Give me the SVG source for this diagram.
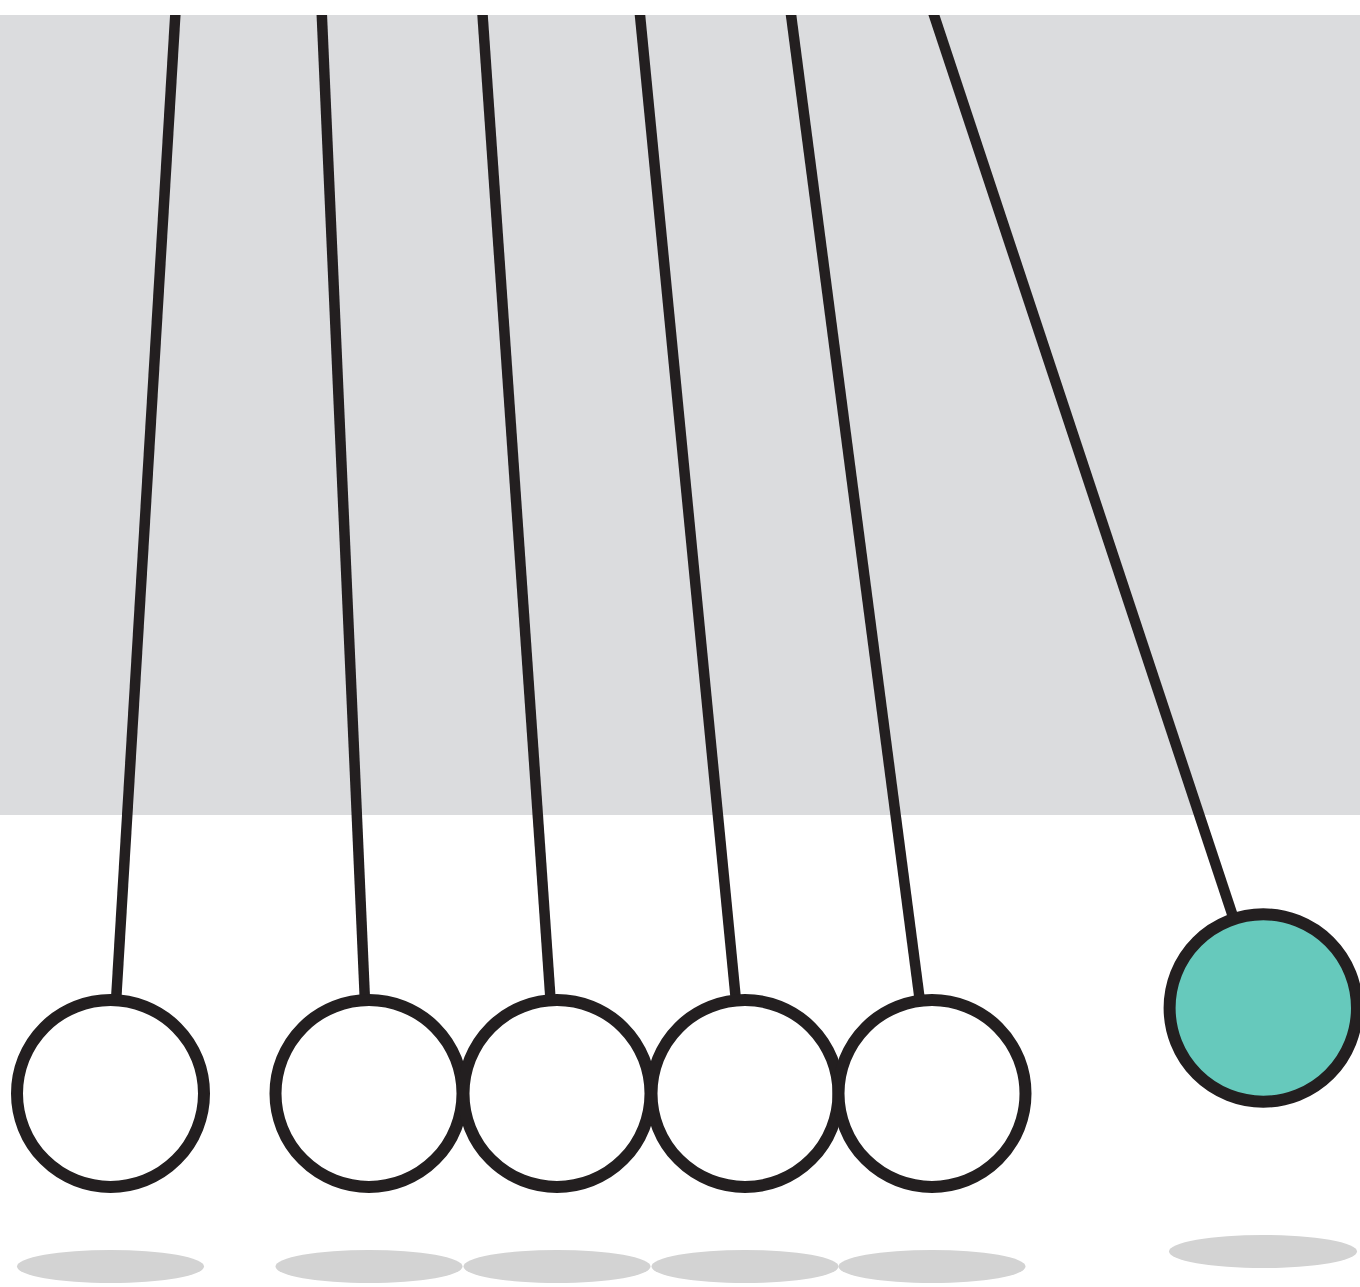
<svg xmlns="http://www.w3.org/2000/svg" width="1360" height="1287" viewBox="0 0 1360 1287">
  <style>
    .string { stroke: #231F20; stroke-width: 10.5; fill: none; stroke-linecap: butt; }
    .ball { stroke: #231F20; stroke-width: 12; fill: #FFFFFF; }
    .ball.active { fill: #66C9BC; }
    .shadow { fill: #D3D3D3; }
  </style>
  <defs>
    <clipPath id="belowTop">
      <rect x="0" y="15" width="1360" height="1272"/>
    </clipPath>
  </defs>
  <rect id="backdrop" x="0" y="15" width="1360" height="800" fill="#DBDCDE"/>
  <g id="shadows">
    <ellipse class="shadow" cx="110.5" cy="1266.5" rx="93.5" ry="16.5"/>
    <ellipse class="shadow" cx="369" cy="1266.5" rx="93.5" ry="16.5"/>
    <ellipse class="shadow" cx="557" cy="1266.5" rx="93.5" ry="16.5"/>
    <ellipse class="shadow" cx="745" cy="1266.5" rx="93.5" ry="16.5"/>
    <ellipse class="shadow" cx="932" cy="1266.5" rx="93.5" ry="16.5"/>
    <ellipse class="shadow" cx="1263" cy="1251.5" rx="94" ry="16.5"/>
  </g>
  <g id="strings" clip-path="url(#belowTop)">
    <line class="string" x1="175.6" y1="10" x2="110.5" y2="1093.5"/>
    <line class="string" x1="321.6" y1="10" x2="369" y2="1093.5"/>
    <line class="string" x1="482.2" y1="10" x2="557" y2="1093.5"/>
    <line class="string" x1="639.5" y1="10" x2="745" y2="1093.5"/>
    <line class="string" x1="790.4" y1="10" x2="932" y2="1093.5"/>
    <line class="string" x1="932.3" y1="10" x2="1263.3" y2="1008"/>
  </g>
  <g id="ball1"><circle class="ball" cx="110.5" cy="1093.5" r="93.5"/></g>
  <g id="ball2"><circle class="ball" cx="369" cy="1093.5" r="93.5"/></g>
  <g id="ball3"><circle class="ball" cx="557" cy="1093.5" r="93.5"/></g>
  <g id="ball4"><circle class="ball" cx="745" cy="1093.5" r="93.5"/></g>
  <g id="ball5"><circle class="ball" cx="932" cy="1093.5" r="93.5"/></g>
  <g id="ball6"><circle class="ball active" cx="1263.3" cy="1008" r="93.7"/></g>
</svg>
